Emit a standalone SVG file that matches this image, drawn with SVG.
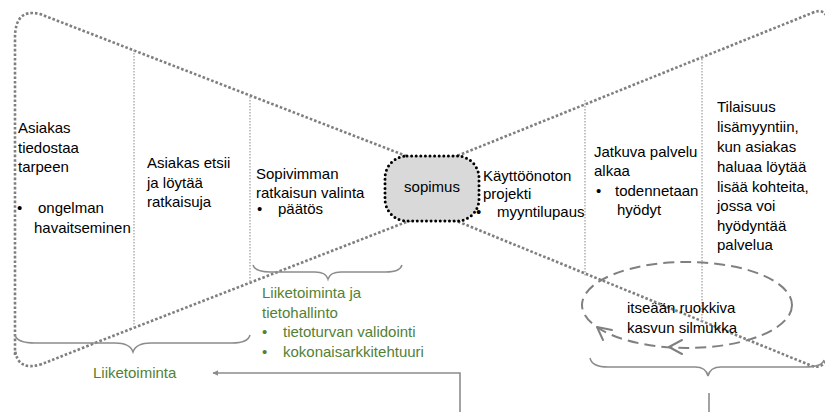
<svg xmlns="http://www.w3.org/2000/svg" width="825" height="412" viewBox="0 0 825 412">
<defs>
<style>
.t{font-family:"Liberation Sans",Arial,sans-serif;font-size:15px;fill:#000}
.g{font-family:"Liberation Sans",Arial,sans-serif;font-size:15px;fill:#538135}
.funnel{fill:none;stroke:#7f7f7f;stroke-width:2.6;stroke-dasharray:2.6 2;stroke-linejoin:round}
.div{fill:none;stroke:#b0b0b0;stroke-width:1.5;stroke-dasharray:1.5 1.5}
.brace{fill:none;stroke:#8c8c8c;stroke-width:1.5}
.conn{fill:none;stroke:#8c8c8c;stroke-width:1.6}
.loop{fill:none;stroke:#808080;stroke-width:2;stroke-dasharray:11 6}
.chev{fill:none;stroke:#808080;stroke-width:2;stroke-linecap:round;stroke-linejoin:round}
</style>
<marker id="ah" viewBox="0 0 10 10" refX="9" refY="5" markerWidth="6" markerHeight="6" orient="auto-start-reverse" markerUnits="userSpaceOnUse">
<path d="M0,0 L10,5 L0,10 z" fill="#8c8c8c"/>
</marker>
</defs>
<rect width="825" height="412" fill="#fff"/>

<g id="funnel">
<path class="funnel" d="M15,355 L15,38 Q15,8 40,14 L432,166"/>
<path class="funnel" d="M432,212 L100,341 Q70,353 42,364 Q18,372 15,350"/>
<path class="funnel" d="M432,166 L812,13 Q826,6 830,25 L830,350 Q826,370 812,366 L432,211"/>
</g>

<g id="dividers">
<line class="div" x1="134" y1="50" x2="134" y2="327"/>
<line class="div" x1="250" y1="97" x2="250" y2="282"/>
<line class="div" x1="585" y1="100" x2="585" y2="277"/>
<line class="div" x1="702" y1="56" x2="702" y2="323"/>
</g>

<g id="sopimus">
<rect x="385" y="156" width="94" height="65" rx="22" ry="22" fill="#d9d9d9" stroke="#000" stroke-width="3" stroke-dasharray="0 4.6" stroke-linecap="round"/>
<text class="t" x="432" y="192" text-anchor="middle">sopimus</text>
</g>

<g id="col1">
<text class="t" x="18" y="133">Asiakas</text>
<text class="t" x="18" y="153">tiedostaa</text>
<text class="t" x="18" y="172">tarpeen</text>
<text class="t" x="17" y="213">•</text>
<text class="t" x="38" y="213">ongelman</text>
<text class="t" x="34" y="233">havaitseminen</text>
</g>

<g id="col2">
<text class="t" x="147" y="168">Asiakas etsii</text>
<text class="t" x="147" y="188">ja löytää</text>
<text class="t" x="147" y="207">ratkaisuja</text>
</g>

<g id="col3">
<text class="t" x="256" y="179">Sopivimman</text>
<text class="t" x="256" y="198">ratkaisun valinta</text>
<text class="t" x="257" y="214">•</text>
<text class="t" x="278" y="214">päätös</text>
</g>

<g id="col4">
<text class="t" x="483" y="181">Käyttöönoton</text>
<text class="t" x="483" y="199">projekti</text>
<text class="t" x="476" y="217">•</text>
<text class="t" x="497" y="217">myyntilupaus</text>
</g>

<g id="col5">
<text class="t" x="594" y="157">Jatkuva palvelu</text>
<text class="t" x="594" y="176">alkaa</text>
<text class="t" x="596" y="196">•</text>
<text class="t" x="615" y="196">todennetaan</text>
<text class="t" x="617" y="215">hyödyt</text>
</g>

<g id="col6">
<text class="t" x="717" y="112">Tilaisuus</text>
<text class="t" x="717" y="132">lisämyyntiin,</text>
<text class="t" x="717" y="152">kun asiakas</text>
<text class="t" x="717" y="172">haluaa löytää</text>
<text class="t" x="717" y="192">lisää kohteita,</text>
<text class="t" x="717" y="211">jossa voi</text>
<text class="t" x="717" y="231">hyödyntää</text>
<text class="t" x="717" y="250">palvelua</text>
</g>

<g id="braces">
<path class="brace" d="M15,335 Q17,343 35,343 L115,343 Q130,343 133,352 Q136,343 151,343 L232,343 Q248,343 250,335"/>
<path class="brace" d="M253,265 Q255,272 270,272 L315,272 Q326,272 328,279 Q330,272 341,272 L386,272 Q400,272 402,265"/>
<path class="brace" d="M590,358 Q592,367 608,367 L695,367 Q706,367 708,376 Q710,367 721,367 L805,367 Q822,367 824,360"/>
</g>

<g id="it-label">
<text class="g" x="262" y="298">Liiketoiminta ja</text>
<text class="g" x="262" y="318">tietohallinto</text>
<text class="g" x="262" y="337">•</text>
<text class="g" x="283" y="337">tietoturvan validointi</text>
<text class="g" x="262" y="357">•</text>
<text class="g" x="283" y="357">kokonaisarkkitehtuuri</text>
</g>

<g id="business-label">
<text class="g" x="93" y="378">Liiketoiminta</text>
</g>

<g id="loop">
<ellipse class="loop" cx="687" cy="305" rx="105" ry="43"/>
<polyline class="chev" points="682,340 669,347 682,354"/>
<polyline class="chev" points="612,330 597,327 603,340"/>
<text class="t" x="627" y="313">itseään ruokkiva</text>
<text class="t" x="627" y="333">kasvun silmukka</text>
</g>

<g id="connectors">
<polyline class="conn" points="460,412 460,373 213,373" marker-end="url(#ah)"/>
<line class="conn" x1="709" y1="393" x2="709" y2="412"/>
</g>
</svg>
